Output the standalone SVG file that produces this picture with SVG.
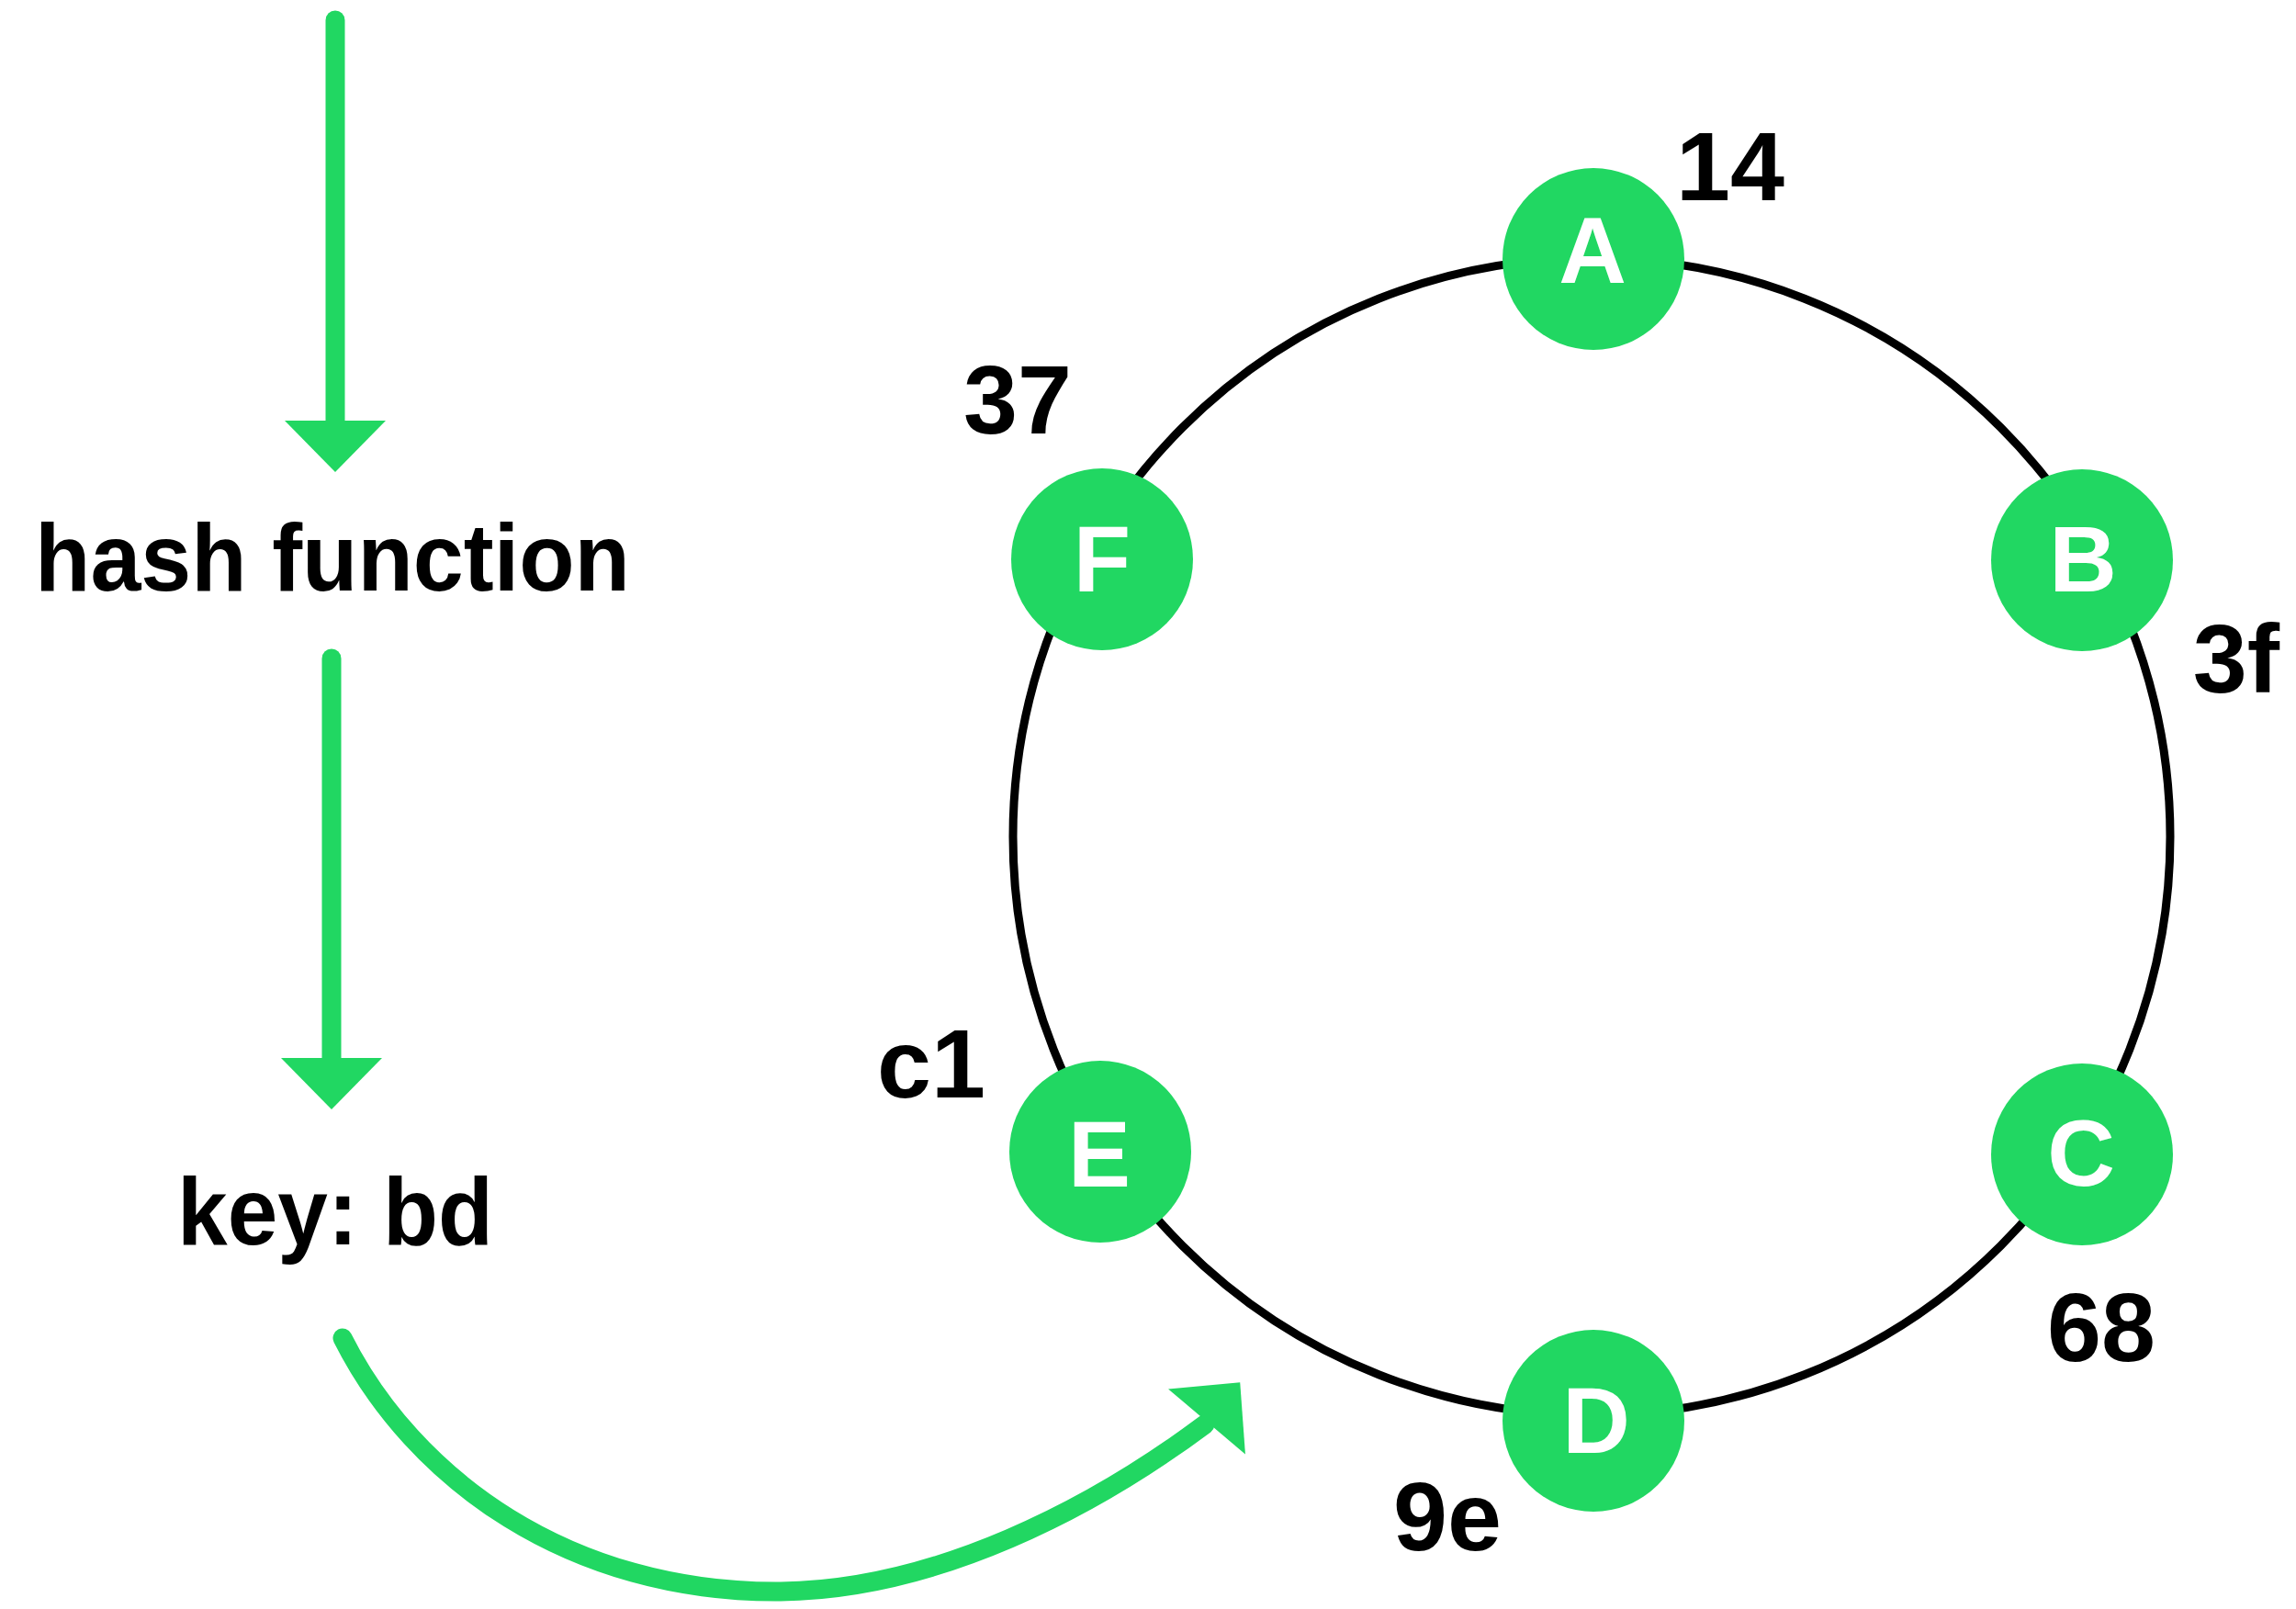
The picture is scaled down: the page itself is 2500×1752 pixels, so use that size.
<svg xmlns="http://www.w3.org/2000/svg" width="2500" height="1752" viewBox="0 0 2500 1752">
  <style>
    .flow { fill: none; stroke: #21D762; stroke-width: 21; stroke-linecap: round; }
    .ring { fill: none; stroke: #000000; stroke-width: 9; }
    .head { fill: #21D762; }
    .node { fill: #21D762; }
    .letter { font-family: "Liberation Sans", Arial, sans-serif; font-weight: bold; font-size: 102px; fill: #FFFFFF; text-anchor: middle; }
    .num { font-family: "Liberation Sans", Arial, sans-serif; font-weight: bold; font-size: 106px; fill: #000000; text-anchor: middle; }
    .label { font-family: "Liberation Sans", Arial, sans-serif; font-weight: bold; font-size: 104px; fill: #000000; text-anchor: middle; }
  </style>
  <defs>
    <path id="arrowhead" class="head" d="M-55,0 L55,0 L0,56 Z"/>
  </defs>
  <rect x="0" y="0" width="2500" height="1752" fill="#FFFFFF"/>

  <g id="connectors">
    <circle class="ring" cx="1733" cy="911" r="630"/>
    <line class="flow" x1="365" y1="22" x2="365" y2="462"/>
    <use href="#arrowhead" transform="translate(365,458)"/>
    <line class="flow" x1="361" y1="717" x2="361" y2="1156"/>
    <use href="#arrowhead" transform="translate(361,1152)"/>
    <path class="flow" d="M373,1457 C450,1610 620,1735 850,1733 C1020,1731 1190,1642 1312,1551"/>
    <use href="#arrowhead" transform="translate(1314,1548) rotate(-139.7)"/>
  </g>

  <g id="hash-function">
    <text class="label" x="362" y="643" textLength="648" lengthAdjust="spacingAndGlyphs">hash function</text>
  </g>

  <g id="key">
    <text class="label" x="365" y="1355" textLength="344" lengthAdjust="spacingAndGlyphs">key: bd</text>
  </g>

  <g id="node-A">
    <circle class="node" cx="1735" cy="282" r="99"/>
    <text class="letter" x="1734" y="308">A</text>
    <text class="num" x="1884" y="218">14</text>
  </g>

  <g id="node-B">
    <circle class="node" cx="2267" cy="610" r="99"/>
    <text class="letter" x="2268" y="644">B</text>
    <text class="num" x="2435" y="754">3f</text>
  </g>

  <g id="node-C">
    <circle class="node" cx="2267" cy="1257" r="99"/>
    <text class="letter" x="2266" y="1291">C</text>
    <text class="num" x="2288" y="1482">68</text>
  </g>

  <g id="node-D">
    <circle class="node" cx="1735" cy="1547" r="99"/>
    <text class="letter" x="1738" y="1582">D</text>
    <text class="num" x="1576" y="1688">9e</text>
  </g>

  <g id="node-E">
    <circle class="node" cx="1198" cy="1254" r="99"/>
    <text class="letter" x="1197" y="1292">E</text>
    <text class="num" x="1014" y="1195">c1</text>
  </g>

  <g id="node-F">
    <circle class="node" cx="1200" cy="609" r="99"/>
    <text class="letter" x="1200" y="644">F</text>
    <text class="num" x="1108" y="472">37</text>
  </g>
</svg>
